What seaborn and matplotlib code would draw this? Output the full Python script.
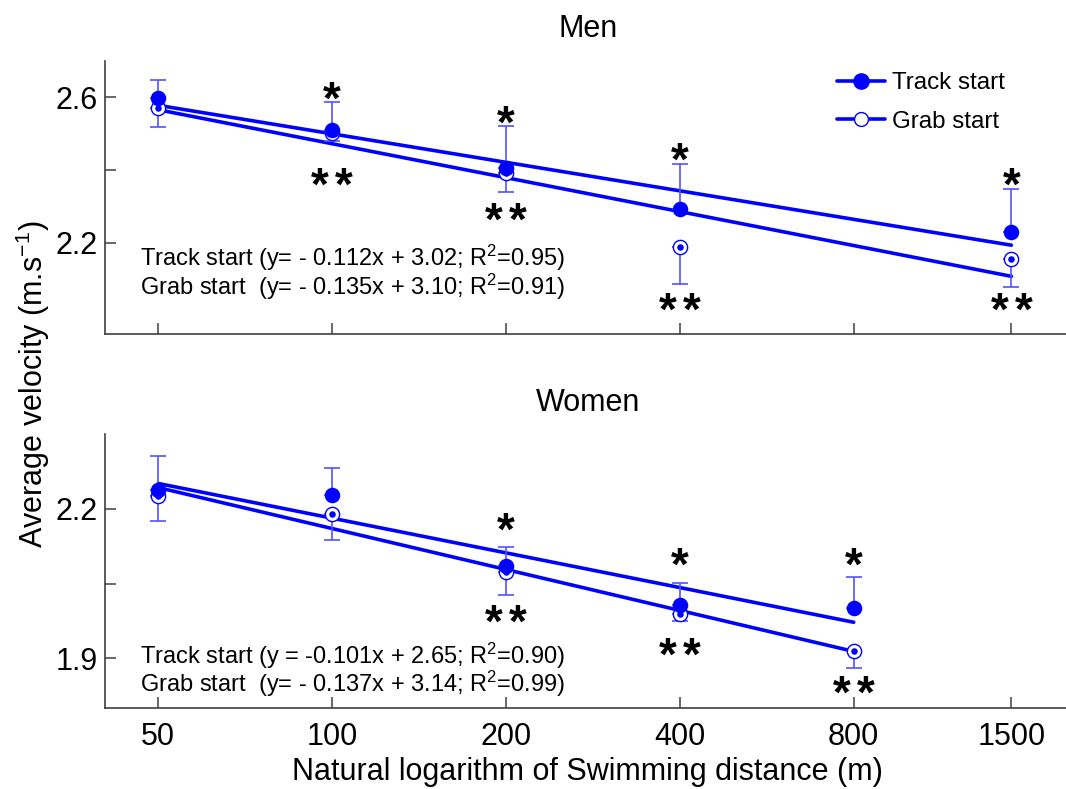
import numpy as np
import matplotlib
matplotlib.use("Agg")
import matplotlib.pyplot as plt
from matplotlib.lines import Line2D
from matplotlib.transforms import offset_copy
import seaborn as sns

# ---------------- data ----------------
distances = [50, 100, 200, 400, 800, 1500]
tick_labels = ["50", "100", "200", "400", "800", "1500"]

men_dist = [50, 100, 200, 400, 1500]
men_track = [2.599, 2.510, 2.406, 2.293, 2.229]
men_track_sd = [0.049, 0.077, 0.115, 0.124, 0.119]
men_grab = [2.572, 2.503, 2.392, 2.190, 2.156]
men_grab_sd = [0.054, 0.024, 0.052, 0.102, 0.077]

women_dist = [50, 100, 200, 400, 800]
women_track = [2.238, 2.228, 2.085, 2.007, 2.000]
women_track_sd = [0.069, 0.054, 0.039, 0.044, 0.063]
women_grab = [2.226, 2.189, 2.073, 1.988, 1.915]
women_grab_sd = [0.051, 0.052, 0.046, 0.013, 0.034]

men_sig_dist = [100, 200, 400, 1500]
men_star1_y = [2.617, 2.553, 2.452, 2.383]
men_star2_y = [2.383, 2.286, 2.038, 2.038]
women_sig_dist = [200, 400, 800]
women_star1_y = [2.174, 2.104, 2.104]
women_star2_y = [1.990, 1.923, 1.846]

men_eq = ["Track start (y= - 0.112x + 3.02; R$^2$=0.95)",
          "Grab start  (y= - 0.135x + 3.10; R$^2$=0.91)"]
women_eq = ["Track start (y = -0.101x + 2.65; R$^2$=0.90)",
            "Grab start  (y= - 0.137x + 3.14; R$^2$=0.99)"]

# ---------------- style ----------------
sns.set_style("ticks")
plt.rcParams["font.family"] = ["Liberation Sans", "DejaVu Sans"]
plt.rcParams["mathtext.fontset"] = "custom"
plt.rcParams["mathtext.rm"] = "Liberation Sans"
plt.rcParams["mathtext.bf"] = "Liberation Sans:bold"
plt.rcParams["mathtext.default"] = "regular"
plt.rcParams["text.color"] = "black"
plt.rcParams["axes.labelcolor"] = "black"
plt.rcParams["xtick.color"] = "black"
plt.rcParams["ytick.color"] = "black"

BLUE = "#0000ff"
EBLUE = "#5252ff"
SPINE = "#404040"

fig = plt.figure(figsize=(10.66, 7.89), dpi=100)
ax_m = fig.add_axes([0.0985, 0.5767, 0.906, 0.346])
ax_w = fig.add_axes([0.0985, 0.1027, 0.906, 0.347])


def draw_panel(ax, dist, track, track_sd, grab, grab_sd, sig_dist, s1, s2, eq,
               eq_y, ylim, yticks, ylabels, title):
    lx = np.log(dist)
    sns.regplot(x=lx, y=np.array(track), scatter=False, ci=None, ax=ax,
                color=BLUE, truncate=True, line_kws=dict(lw=2.6, zorder=2))
    sns.regplot(x=lx, y=np.array(grab), scatter=False, ci=None, ax=ax,
                color=BLUE, truncate=True, line_kws=dict(lw=2.6, zorder=2))
    z = np.zeros(len(dist))
    ax.errorbar(lx, track, yerr=[z, track_sd], fmt="none", ecolor=EBLUE,
                elinewidth=1.2, capsize=6, capthick=1.2, zorder=3)
    ax.errorbar(lx, grab, yerr=[grab_sd, z], fmt="none", ecolor=EBLUE,
                elinewidth=1.2, capsize=6, capthick=1.2, zorder=3)
    sns.scatterplot(x=lx, y=grab, ax=ax, marker="o", s=105, facecolor="white",
                    edgecolor=BLUE, linewidth=1.0, zorder=4, legend=False)
    sns.scatterplot(x=lx, y=grab, ax=ax, marker="o", s=22, color=BLUE,
                    edgecolor=BLUE, linewidth=0, zorder=5, legend=False)
    sns.scatterplot(x=lx, y=track, ax=ax, marker="o", s=125, color=BLUE,
                    edgecolor=BLUE, linewidth=0, zorder=6, legend=False)
    star_c = offset_copy(ax.transData, fig=fig, x=0, y=-10, units="dots")
    star_l = offset_copy(ax.transData, fig=fig, x=-12, y=-10, units="dots")
    star_r = offset_copy(ax.transData, fig=fig, x=12, y=-10, units="dots")
    sx = np.log(sig_dist)
    star = r"$\mathbf{*}$"
    kw = dict(ha="center", va="center", fontsize=33, color="black")
    for xi, y1, y2 in zip(sx, s1, s2):
        ax.text(xi, y1, star, transform=star_c, **kw)
        ax.text(xi, y2, star, transform=star_l, **kw)
        ax.text(xi, y2, star, transform=star_r, **kw)
    ax.text(0.036, eq_y[0], eq[0], transform=ax.transAxes, fontsize=17,
            va="center", ha="left")
    ax.text(0.036, eq_y[1], eq[1], transform=ax.transAxes, fontsize=17,
            va="center", ha="left")
    ax.set_xlim(3.70, 7.55)
    ax.set_ylim(*ylim)
    ax.set_xticks(np.log(distances))
    ax.set_yticks(yticks)
    ax.set_yticklabels(ylabels)
    ax.set_title(title, fontsize=22, pad=17)
    for s in ["top", "right"]:
        ax.spines[s].set_visible(False)
    for s in ["left", "bottom"]:
        ax.spines[s].set_color(SPINE)
        ax.spines[s].set_linewidth(1.2)
    ax.tick_params(axis="both", direction="in", length=8, width=1.1,
                   color=SPINE, labelcolor="black", labelsize=22)
    ax.tick_params(axis="y", pad=5)
    ax.tick_params(axis="x", pad=10)


draw_panel(ax_m, men_dist, men_track, men_track_sd, men_grab, men_grab_sd,
           men_sig_dist, men_star1_y, men_star2_y, men_eq, (0.278, 0.172),
           (1.95, 2.70), [2.2, 2.4, 2.6], ["2.2", "", "2.6"], "Men")
ax_m.tick_params(labelbottom=False)

draw_panel(ax_w, women_dist, women_track, women_track_sd, women_grab, women_grab_sd,
           women_sig_dist, women_star1_y, women_star2_y, women_eq, (0.190, 0.087),
           (1.80, 2.35), [1.9, 2.05, 2.2], ["1.9", "", "2.2"], "Women")
ax_w.set_xticklabels(tick_labels)
ax_w.set_xlabel("Natural logarithm of Swimming distance (m)", fontsize=22,
                labelpad=4)

fig.text(0.031, (0.1027 + 0.9227) / 2, "Average velocity (m.s$^{-1}$)",
         rotation=90, ha="center", va="center", fontsize=22)

handles = [
    Line2D([0], [0], color=BLUE, lw=2.6, marker="o", markersize=11,
           markerfacecolor=BLUE, markeredgecolor=BLUE),
    Line2D([0], [0], color=BLUE, lw=2.6, marker="o", markersize=10,
           markerfacecolor="white", markeredgecolor=BLUE, markeredgewidth=1.0),
]
ax_m.legend(handles, ["Track start", "Grab start"], loc="upper right",
            bbox_to_anchor=(0.947, 1.012), frameon=False, fontsize=17.4,
            handlelength=2.0, handletextpad=0.3, labelspacing=0.68,
            borderaxespad=0.2)

fig.savefig("out.png", dpi=100)
